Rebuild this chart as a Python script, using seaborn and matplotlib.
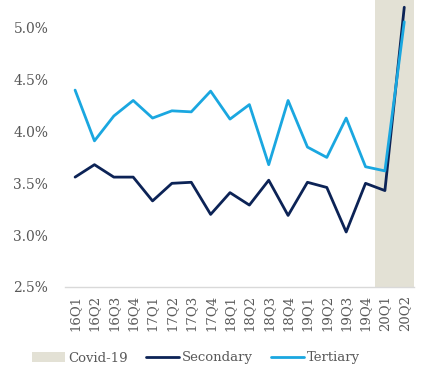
import numpy as np
import pandas as pd
import seaborn as sns
from matplotlib import pyplot as plt
from matplotlib.patches import Patch
from matplotlib.lines import Line2D

quarters = ['16Q1', '16Q2', '16Q3', '16Q4', '17Q1', '17Q2', '17Q3', '17Q4', '18Q1',
            '18Q2', '18Q3', '18Q4', '19Q1', '19Q2', '19Q3', '19Q4', '20Q1', '20Q2']
secondary = [3.56, 3.68, 3.56, 3.56, 3.33, 3.50, 3.51, 3.20, 3.41,
             3.29, 3.53, 3.19, 3.51, 3.46, 3.03, 3.50, 3.43, 5.20]
tertiary = [4.40, 3.91, 4.15, 4.30, 4.13, 4.20, 4.19, 4.39, 4.12,
            4.26, 3.68, 4.30, 3.85, 3.75, 4.13, 3.66, 3.62, 5.06]
covid = [0] * 16 + [6.0, 6.0]

navy = '#0c2356'
light_blue = '#1aa7e0'
shade = '#e3e1d5'
grey = '#595959'

sns.set_style('white')
plt.rcParams['font.family'] = ['DejaVu Serif']

df = pd.DataFrame({'quarter': quarters, 'Secondary': secondary,
                   'Tertiary': tertiary, 'Covid-19': covid})

fig = plt.figure(figsize=(4.25, 3.81), dpi=100)
ax = fig.add_axes([0.153, 0.247, 0.821, 0.753])

sns.barplot(data=df, x='quarter', y='Covid-19', color=shade, width=1.0,
            saturation=1, linewidth=0, edgecolor=shade, ax=ax)
sns.lineplot(data=df, x='quarter', y='Secondary', color=navy, lw=2.0,
             sort=False, ax=ax)
sns.lineplot(data=df, x='quarter', y='Tertiary', color=light_blue, lw=2.0,
             sort=False, ax=ax)

ax.set_xlim(-0.52, 17.5)
ax.set_ylim(2.5, 5.27)
ax.set_yticks([2.5, 3.0, 3.5, 4.0, 4.5, 5.0])
ax.set_yticklabels(['%.1f%%' % v for v in [2.5, 3.0, 3.5, 4.0, 4.5, 5.0]])
ax.set_xlabel('')
ax.set_ylabel('')
ax.tick_params(axis='x', rotation=90, labelsize=9.5, colors=grey, length=0, pad=6)
ax.tick_params(axis='y', labelsize=10, colors=grey, length=0, pad=12)

for s in ['top', 'right', 'left']:
    ax.spines[s].set_visible(False)
ax.spines['bottom'].set_color('#d9d9d9')
ax.spines['bottom'].set_linewidth(1.0)

handles = [Patch(facecolor=shade, edgecolor='none'),
           Line2D([], [], color=navy, lw=2.0),
           Line2D([], [], color=light_blue, lw=2.0)]
fig.legend(handles, ['Covid-19', 'Secondary', 'Tertiary'], loc='center',
           bbox_to_anchor=(196 / 425, 1 - 358 / 381), ncol=3, frameon=False,
           fontsize=9.5, labelcolor=grey, handlelength=2.5, handletextpad=0.2,
           columnspacing=1.4)

fig.savefig('out.png', dpi=100)
